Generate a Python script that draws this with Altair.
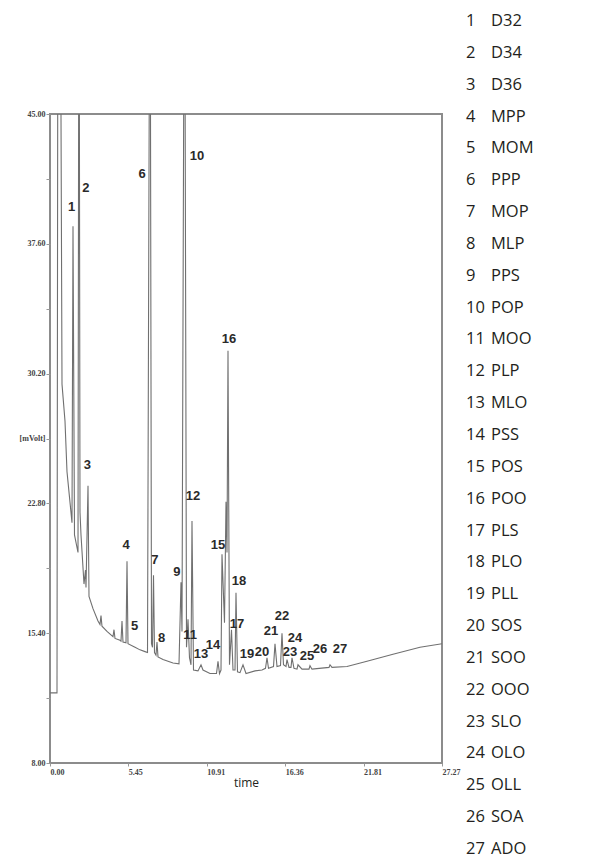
import altair as alt
import pandas as pd

# ---- chromatogram trace (time in min, signal in mV) ----
trace_time = [0.000, 0.487, 0.557, 0.696, 0.835, 1.043, 1.183, 1.530, 1.600, 1.704,
              1.948, 2.017, 2.087, 2.157, 2.365, 2.470, 2.504, 2.644, 2.713, 2.991,
              3.339, 3.478, 3.548, 3.617, 3.965, 4.383, 4.452, 4.522, 4.870, 4.939,
              5.009, 5.078, 5.287, 5.357, 5.426, 5.913, 6.261, 6.609, 6.783, 6.957,
              7.061, 7.130, 7.200, 7.270, 7.374, 7.443, 7.513, 7.861, 8.557, 8.974,
              9.113, 9.183, 9.357, 9.496, 9.600, 9.704, 9.809, 9.878, 9.983, 10.296,
              10.504, 10.643, 11.130, 11.583, 11.687, 11.791, 11.896, 11.965, 12.139, 12.244,
              12.313, 12.383, 12.487, 12.626, 12.731, 12.870, 12.939, 13.043, 13.217, 13.426,
              13.635, 14.261, 14.748, 14.991, 15.096, 15.200, 15.548, 15.652, 15.791, 16.035,
              16.139, 16.243, 16.418, 16.487, 16.626, 16.765, 16.835, 16.974, 17.183, 17.252,
              17.530, 18.017, 18.087, 18.226, 19.409, 19.478, 19.617, 20.661, 22.052, 23.861,
              25.739, 27.270]
trace_mv = [12.0, 12.0, 60.0, 60.0, 29.6, 27.5, 24.6, 21.7, 38.6, 21.0,
            20.0, 60.0, 22.3, 21.0, 18.2, 19.0, 18.0, 23.8, 17.5, 16.8,
            16.1, 15.9, 16.4, 15.8, 15.5, 15.2, 15.6, 15.1, 15.0, 14.95,
            16.1, 14.9, 14.85, 19.5, 14.8, 14.6, 14.45, 14.35, 14.3, 60.0,
            14.8, 14.6, 18.7, 14.3, 14.15, 14.9, 14.05, 13.9, 13.7, 13.65,
            18.3, 15.5, 60.0, 14.6, 16.2, 14.0, 13.6, 21.8, 13.3, 13.25,
            13.6, 13.3, 13.1, 13.1, 13.8, 13.1, 13.3, 19.9, 16.0, 22.9,
            20.0, 31.5, 13.6, 15.6, 13.3, 13.3, 17.7, 13.2, 13.15, 13.6,
            13.1, 13.25, 13.3, 13.4, 14.0, 13.4, 13.5, 14.8, 13.5, 13.55,
            15.4, 13.6, 13.5, 13.9, 13.45, 13.45, 14.0, 13.4, 13.35, 13.6,
            13.35, 13.35, 13.55, 13.35, 13.45, 13.6, 13.45, 13.5, 13.8, 14.2,
            14.6, 14.8]

# ---- peak numbers and where their labels sit (data units) ----
peak_ids = list(range(1, 28))
peak_names = ["D32", "D34", "D36", "MPP", "MOM", "PPP", "MOP", "MLP", "PPS", "POP",
              "MOO", "PLP", "MLO", "PSS", "POS", "POO", "PLS", "PLO", "PLL", "SOS",
              "SOO", "OOO", "SLO", "OLO", "OLL", "SOA", "ADO"]
label_time = [1.50, 2.50, 2.60, 5.29, 5.88, 6.40, 7.30, 7.76, 8.83, 10.23,
              9.74, 9.95, 10.50, 11.34, 11.69, 12.45, 13.01, 13.15, 13.71, 14.75,
              15.38, 16.14, 16.70, 17.05, 17.88, 18.78, 20.18]
label_mv = [39.7, 40.8, 25.0, 20.4, 15.8, 41.6, 19.6, 15.1, 18.9, 42.6,
            15.3, 23.2, 14.2, 14.7, 20.4, 32.2, 15.9, 18.4, 14.2, 14.3,
            15.5, 16.4, 14.3, 15.1, 14.1, 14.5, 14.5]

y_ticks = [8.0, 11.7, 15.4, 19.1, 22.8, 26.5, 30.2, 33.9, 37.6, 41.3, 45.0]
x_ticks = [0.0, 5.45, 10.91, 16.36, 21.81, 27.27]

trace = pd.DataFrame({"time": trace_time, "mV": trace_mv})
labels = pd.DataFrame({"id": [str(i) for i in peak_ids], "time": label_time, "mV": label_mv})
legend = pd.DataFrame({"idx": peak_ids, "num": [str(i) for i in peak_ids], "name": peak_names})

x_scale = alt.Scale(domain=[0, 27.27], nice=False, zero=False)
y_scale = alt.Scale(domain=[8, 45], nice=False, zero=False)

x_enc = alt.X("time:Q", scale=x_scale,
              axis=alt.Axis(values=x_ticks, format=".2f", title="time",
                            labelFont="Liberation Serif", labelFontWeight="bold",
                            labelFontSize=8, labelColor="#444", labelAlign="left",
                            labelPadding=2, tickSize=3, tickColor="#999",
                            domain=False, grid=False,
                            titleFont="Open Sans", titleFontSize=12,
                            titleFontWeight="normal", titleColor="#231f20",
                            titlePadding=1))
y_enc = alt.Y("mV:Q", scale=y_scale,
              axis=alt.Axis(values=y_ticks, title=None,
                            labelExpr="abs(datum.value - 26.5) < 0.01 ? '[mVolt]' : "
                                      "(abs((datum.value - 8) / 7.4 - round((datum.value - 8) / 7.4)) < 0.01 ? "
                                      "format(datum.value, '.2f') : '')",
                            labelFont="Liberation Serif", labelFontWeight="bold",
                            labelFontSize=8, labelColor="#444", labelPadding=1,
                            tickSize=4, tickColor="#999", domain=False, grid=False))

line = alt.Chart(trace).mark_line(color="#707070", strokeWidth=1.1, clip=True).encode(
    x=x_enc, y=y_enc)

peak_text = alt.Chart(labels).mark_text(
    font="Liberation Sans", fontWeight="bold", fontSize=13, color="#2a2a2a"
).encode(x=alt.X("time:Q", scale=x_scale),
         y=alt.Y("mV:Q", scale=y_scale, axis=None),
         text="id:N")

leg_y = alt.Y("idx:Q", scale=alt.Scale(domain=[1, 27], range=[-93, 735]), axis=None)
leg_num = alt.Chart(legend).mark_text(
    align="left", baseline="middle", font="Open Sans", fontSize=16.5, color="#231f20"
).encode(x=alt.value(416), y=leg_y, text="num:N")
leg_name = alt.Chart(legend).mark_text(
    align="left", baseline="middle", font="Open Sans", fontSize=16.5, color="#231f20"
).encode(x=alt.value(441), y=leg_y, text="name:N")

chart = alt.layer(line, peak_text, leg_num, leg_name).resolve_scale(
    y="independent"
).properties(
    width=392, height=649,
    autosize=alt.AutoSizeParams(type="none"),
    padding={"left": 42, "top": 106, "right": 145, "bottom": 95},
).configure_view(stroke="#8c8c8c", strokeWidth=2)

chart.save("out.html", embed_options={"renderer": "svg", "actions": False})
